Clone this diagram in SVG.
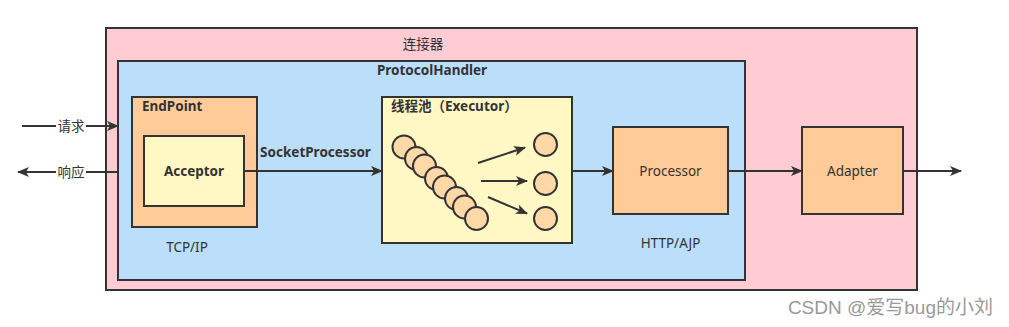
<svg xmlns="http://www.w3.org/2000/svg" width="1009" height="327" viewBox="0 0 1009 327">
<style>
.box{stroke:#333;stroke-width:2}
.t{font-family:"Noto Sans","Noto Sans CJK SC",sans-serif;fill:#333;font-size:13.5px}
.b{font-weight:bold;font-size:13.5px}
.ln{stroke:#333;stroke-width:2;fill:none}
.c{fill:#ffd8a8;stroke:#333;stroke-width:2}
</style>
<defs>
<marker id="a" viewBox="0 0 12 10" refX="11" refY="5" markerWidth="12" markerHeight="10" orient="auto" markerUnits="userSpaceOnUse">
<path d="M0,0 L12,5 L0,10 L3,5 Z" fill="#333"/>
</marker>
</defs>
<rect width="1009" height="327" fill="#fff"/>
<g id="connector">
<rect class="box" x="106" y="28" width="811" height="262" fill="#ffccd4"/>
<text class="t" x="423" y="49" text-anchor="middle">连接器</text>
</g>
<g id="protocolHandler">
<rect class="box" x="118" y="61" width="627" height="219" fill="#bbdefb"/>
<text class="t b" x="432" y="74.5" text-anchor="middle">ProtocolHandler</text>
</g>
<g id="endpoint">
<rect class="box" x="132" y="97" width="125" height="130" fill="#ffcc99"/>
<text class="t b" x="142" y="110.5">EndPoint</text>
<text class="t" x="187" y="252" text-anchor="middle">TCP/IP</text>
</g>
<g id="acceptor">
<rect class="box" x="144" y="136" width="100" height="70" fill="#fff8c4"/>
<text class="t b" x="194" y="176" text-anchor="middle">Acceptor</text>
</g>
<g id="executor">
<rect class="box" x="382" y="97" width="190" height="146" fill="#fff8c4"/>
<text class="t b" x="391" y="110.5">线程池（Executor）</text>
<circle class="c" cx="404" cy="147" r="11.5"/>
<circle class="c" cx="416.5" cy="158.5" r="11.5"/>
<circle class="c" cx="424.5" cy="166" r="11.5"/>
<circle class="c" cx="436.5" cy="178.5" r="11.5"/>
<circle class="c" cx="444.5" cy="187" r="11.5"/>
<circle class="c" cx="456.5" cy="198.5" r="11.5"/>
<circle class="c" cx="464.5" cy="207" r="11.5"/>
<circle class="c" cx="476.5" cy="218.5" r="11.5"/>
<circle class="c" cx="545.5" cy="144.5" r="11.5"/>
<circle class="c" cx="545.5" cy="183.5" r="11.5"/>
<circle class="c" cx="545.5" cy="218.5" r="11.5"/>
<line class="ln" x1="478" y1="163" x2="525" y2="147.5" marker-end="url(#a)"/>
<line class="ln" x1="481" y1="181" x2="527" y2="181" marker-end="url(#a)"/>
<line class="ln" x1="488" y1="197" x2="527" y2="213.5" marker-end="url(#a)"/>
</g>
<g id="processor">
<rect class="box" x="613" y="127" width="115" height="87" fill="#ffcc99"/>
<text class="t" x="670.5" y="176" text-anchor="middle" font-size="14">Processor</text>
<text class="t" x="670.5" y="248" text-anchor="middle">HTTP/AJP</text>
</g>
<g id="adapter">
<rect class="box" x="802" y="127" width="101" height="87" fill="#ffcc99"/>
<text class="t" x="852.5" y="176" text-anchor="middle" font-size="14">Adapter</text>
</g>
<g id="connectors">
<line class="ln" x1="22" y1="126" x2="118" y2="126" marker-end="url(#a)"/>
<rect x="56" y="117" width="30" height="17" fill="#fff"/>
<text class="t" x="71" y="131" text-anchor="middle">请求</text>
<line class="ln" x1="118" y1="172" x2="18" y2="172" marker-end="url(#a)"/>
<rect x="56" y="163" width="30" height="17" fill="#fff"/>
<text class="t" x="71" y="177" text-anchor="middle">响应</text>
<line class="ln" x1="244" y1="171" x2="382" y2="171" marker-end="url(#a)"/>
<text class="t b" x="315.5" y="156.5" text-anchor="middle">SocketProcessor</text>
<line class="ln" x1="572" y1="171" x2="613" y2="171" marker-end="url(#a)"/>
<line class="ln" x1="728" y1="171" x2="802" y2="171" marker-end="url(#a)"/>
<line class="ln" x1="903" y1="171" x2="961" y2="171" marker-end="url(#a)"/>
</g>
<text x="993" y="314" text-anchor="end" font-family="'Liberation Sans','Noto Sans CJK SC',sans-serif" font-size="19" fill="#999">CSDN @爱写bug的小刘</text>
</svg>
